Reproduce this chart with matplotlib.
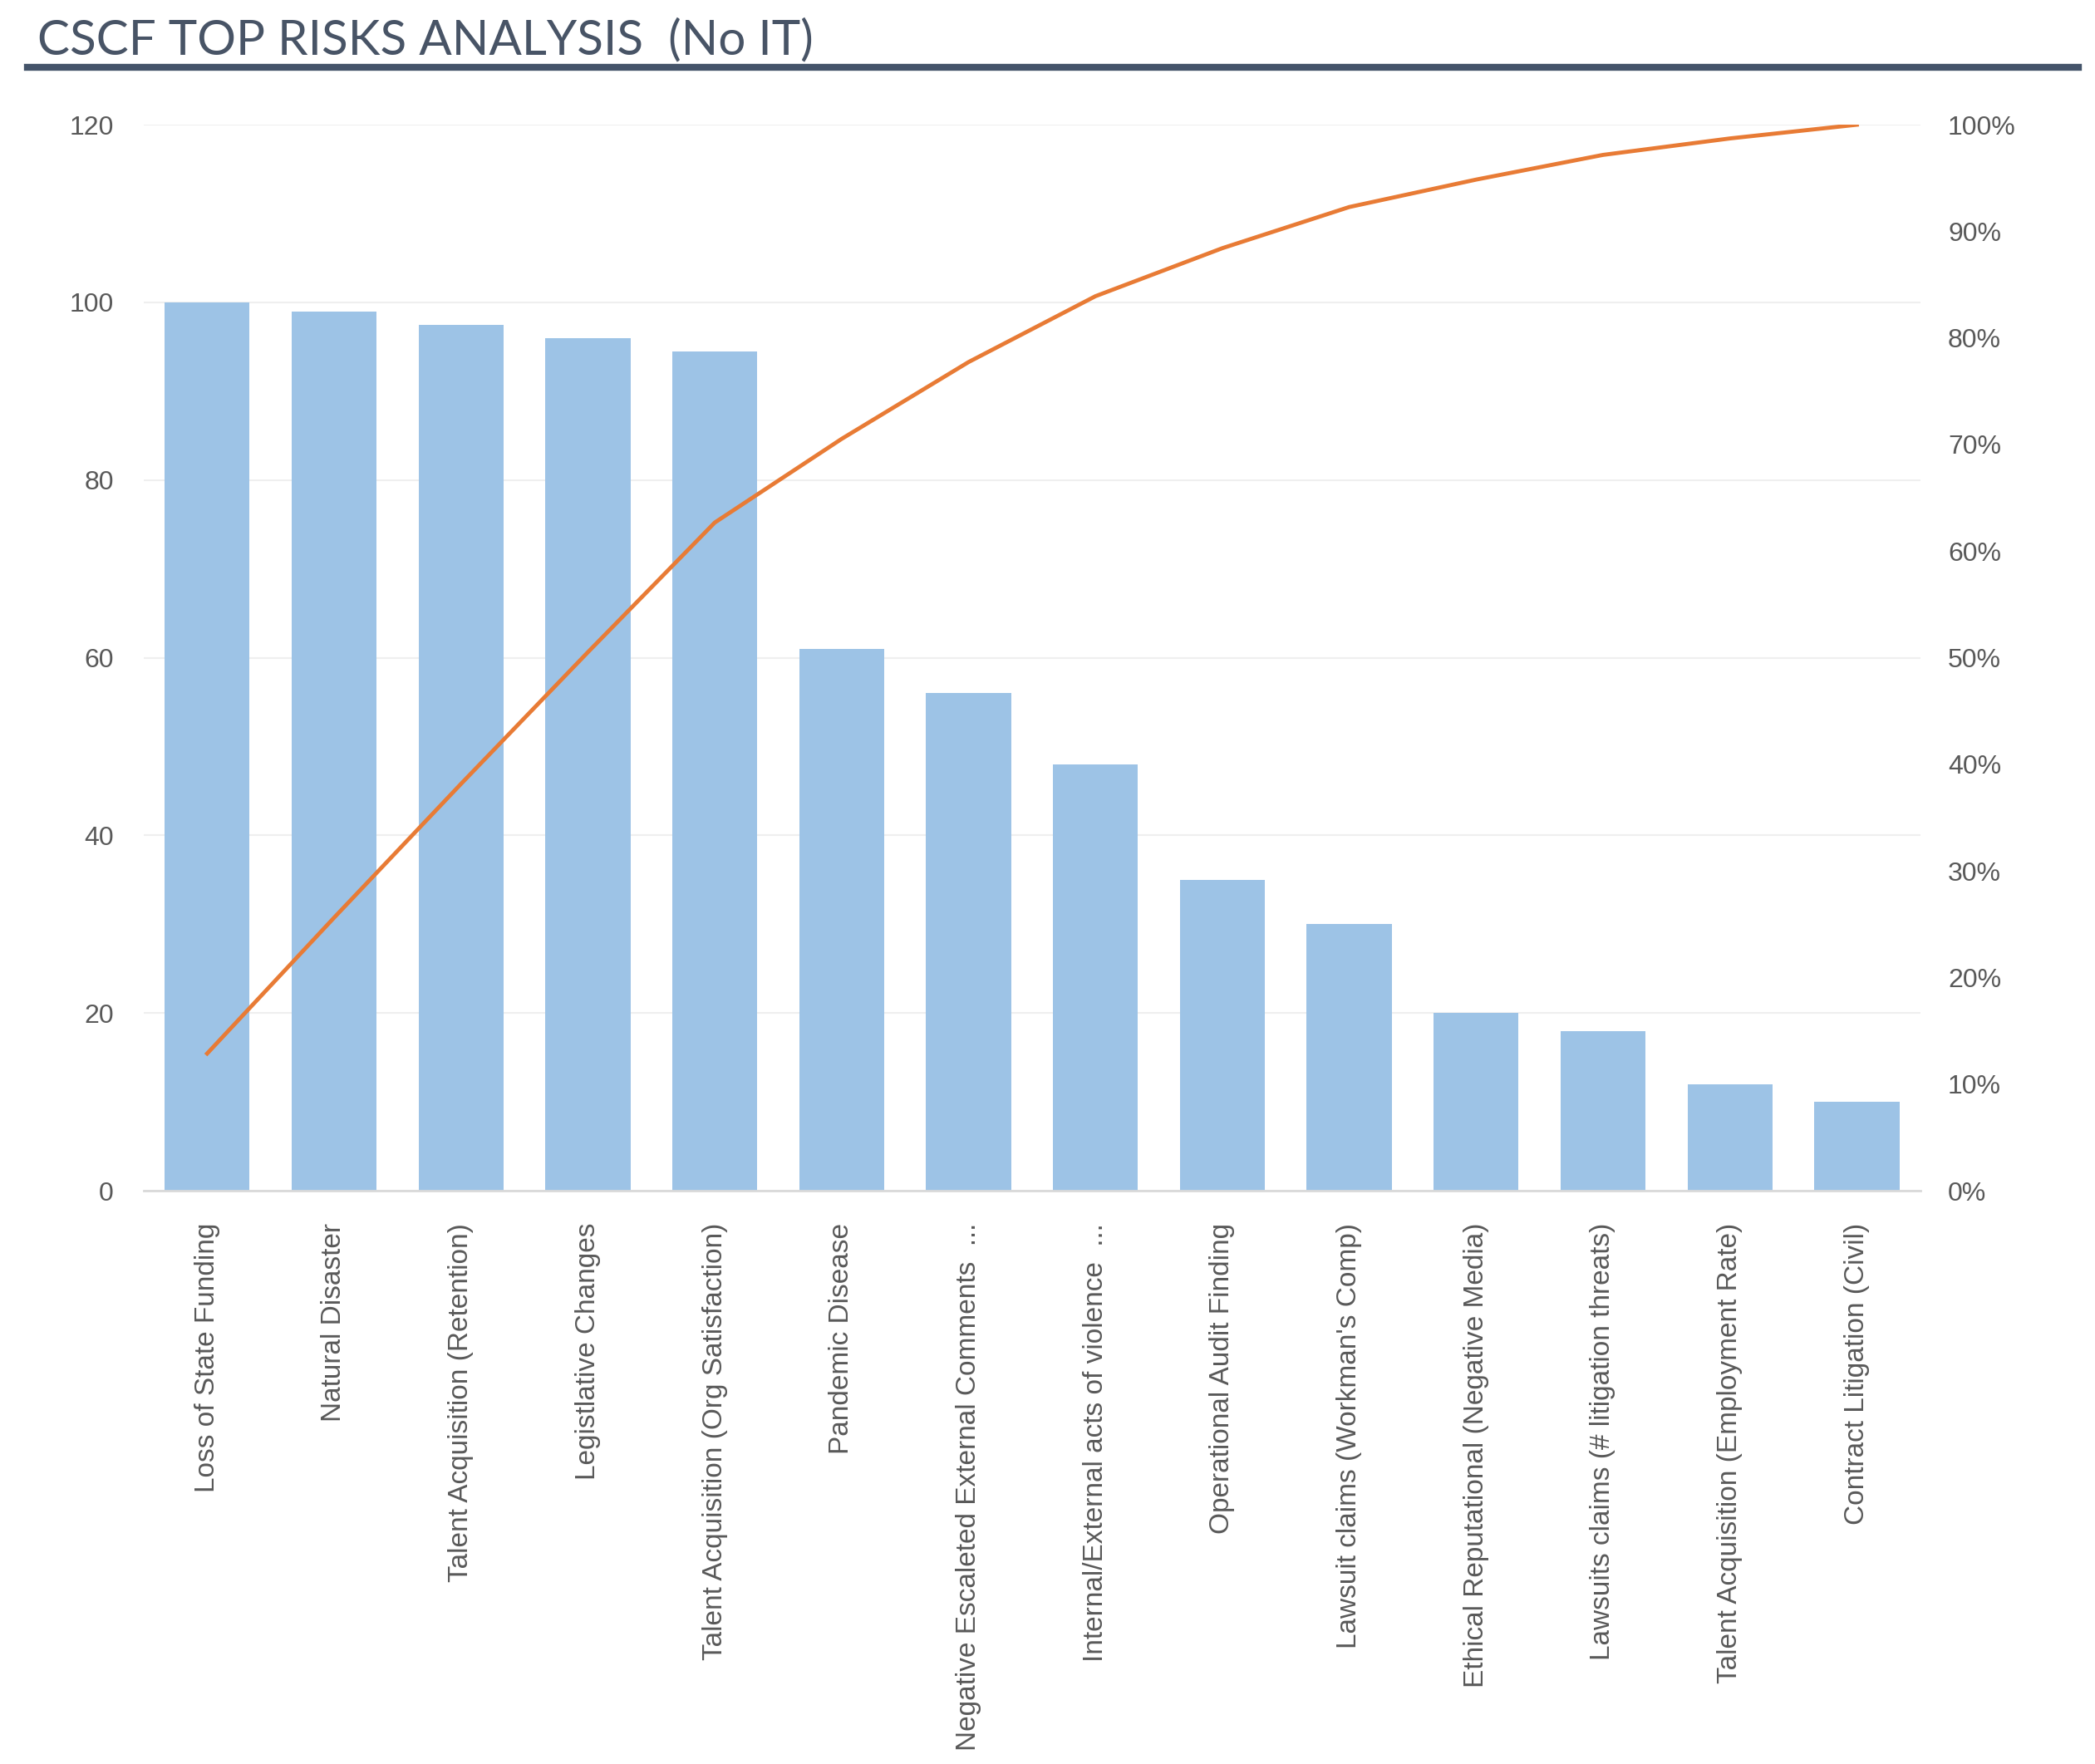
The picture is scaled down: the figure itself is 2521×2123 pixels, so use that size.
import matplotlib.pyplot as plt
import matplotlib.ticker as mticker
import numpy as np

plt.rcParams['font.family'] = ['Liberation Sans', 'DejaVu Sans']

risks = [
    "Loss of State Funding",
    "Natural Disaster",
    "Talent Acquisition (Retention)",
    "Legistlative Changes",
    "Talent Acquisition (Org Satisfaction)",
    "Pandemic Disease",
    "Negative Escaleted External Comments  ...",
    "Internal/External acts of violence  ...",
    "Operational Audit Finding",
    "Lawsuit claims (Workman's Comp)",
    "Ethical Reputational (Negative Media)",
    "Lawsuits claims (# litigation threats)",
    "Talent Acquisition (Employment Rate)",
    "Contract Litigation (Civil)",
]
scores = [100, 99, 97.5, 96, 94.5, 61, 56, 48, 35, 30, 20, 18, 12, 10]

# pareto line: cumulative share of the total
cum_pct = np.cumsum(scores) / np.sum(scores) * 100

bar_color = '#9DC3E6'
line_color = '#E87B35'
text_grey = '#595959'

fig = plt.figure(figsize=(25.21, 21.23), dpi=100)
ax = fig.add_axes([0.0686, 0.325, 0.848, 0.6043])

x = np.arange(len(risks))
ax.bar(x, scores, width=0.67, color=bar_color, zorder=2)
ax.set_xlim(-0.5, len(risks) - 0.5)
ax.set_ylim(0, 120)
ax.set_yticks(range(0, 121, 20))
ax.grid(axis='y', color='#EFEFEF', linewidth=1.5, zorder=0)
for s in ['top', 'right', 'left']:
    ax.spines[s].set_visible(False)
ax.spines['bottom'].set_color('#D9D9D9')
ax.spines['bottom'].set_linewidth(2)
ax.tick_params(axis='y', length=0, labelsize=23, labelcolor=text_grey, pad=26)
ax.tick_params(axis='x', length=0, pad=28)
ax.set_xticks(x)
ax.set_xticklabels(risks, rotation=90, fontsize=24, color=text_grey, va='top')

ax2 = ax.twinx()
ax2.plot(x, cum_pct, color=line_color, linewidth=3.5, zorder=3)
ax2.set_ylim(0, 100)
ax2.set_yticks(range(0, 101, 10))
ax2.yaxis.set_major_formatter(mticker.FuncFormatter(lambda v, p: f"{v:.0f}%"))
ax2.tick_params(axis='y', length=0, labelsize=23, labelcolor=text_grey, pad=24)
for s in ax2.spines.values():
    s.set_visible(False)

fig.text(0.018, 0.969, "CSCF TOP RISKS ANALYSIS  (No IT)", fontsize=42,
         color='#485466', va='baseline', ha='left', fontweight='normal',
         family=['Lato', 'Liberation Sans', 'DejaVu Sans'])
fig.add_artist(plt.Line2D([0.013, 0.992], [0.962, 0.962], color='#44546A',
                          linewidth=6, transform=fig.transFigure))

fig.savefig('out.png', dpi=100, facecolor='white')
